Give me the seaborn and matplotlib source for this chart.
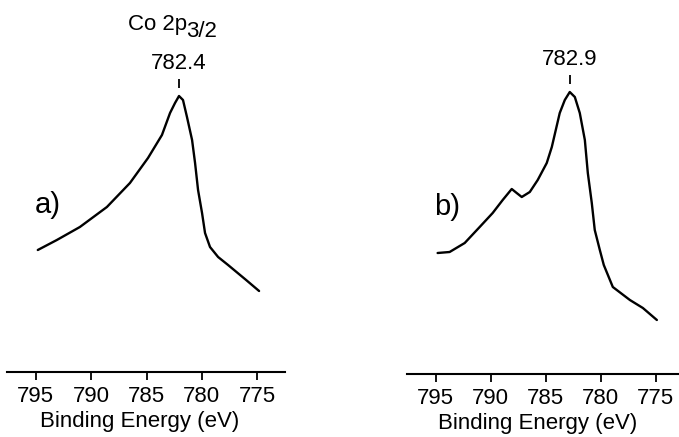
import matplotlib
matplotlib.use('Agg')
import matplotlib.pyplot as plt
import seaborn as sns
import pandas as pd

# Co 2p3/2 spectra, energies in eV, intensity in arbitrary units
energy_a = [794.82, 793.10, 791.02, 788.58, 786.50, 784.87, 783.61, 782.88, 782.43, 782.07,
            781.71, 781.35, 780.89, 780.62, 780.35, 779.99, 779.72, 779.27, 778.54, 777.64,
            776.01, 774.84]
intensity_a = [122, 132, 145, 165, 189, 214, 237, 259, 269, 276,
               272, 255, 232, 209, 182, 159, 139, 125, 115, 107,
               92, 81]

energy_b = [794.82, 793.73, 792.36, 791.00, 789.82, 788.91, 788.09, 787.64, 787.18, 786.45,
            785.73, 784.91, 784.45, 783.73, 783.27, 782.82, 782.36, 781.91, 781.45, 781.18,
            780.82, 780.55, 780.09, 779.73, 778.91, 777.36, 776.18, 774.91]
intensity_b = [121, 122, 131, 147, 161, 174, 185, 181, 177, 182,
               194, 211, 227, 261, 274, 282, 277, 261, 234, 201,
               171, 144, 124, 109, 87, 74, 66, 54]

ticks = [795, 790, 785, 780, 775]
peak_labels = ["782.4", "782.9"]
panel_labels = ["a)", "b)"]

sns.set_style("white")
plt.rcParams['font.family'] = ['Liberation Sans', 'DejaVu Sans']
plt.rcParams['text.color'] = 'black'
plt.rcParams['axes.labelcolor'] = 'black'
plt.rcParams['xtick.color'] = 'black'

fig = plt.figure(figsize=(6.79, 4.37), dpi=100)
W, H = 679, 437
ax_a = fig.add_axes([7 / W, 65 / H, 278 / W, 372 / H])
ax_b = fig.add_axes([407 / W, 63 / H, 272 / W, 374 / H])

panels = [
    (ax_a, energy_a, intensity_a, (797.6, 772.5), 372, 0.478),
    (ax_b, energy_b, intensity_b, (797.6, 772.9), 374, 0.48),
]

for i, (ax, e, y, xlim, top, lab_x) in enumerate(panels):
    df = pd.DataFrame({'energy': e, 'intensity': y})
    sns.lineplot(data=df, x='energy', y='intensity', ax=ax, sort=False,
                 color='black', linewidth=1.7, solid_joinstyle='round',
                 solid_capstyle='round')
    ax.set_xlim(*xlim)
    ax.set_ylim(0, top)
    for s in ['top', 'left', 'right']:
        ax.spines[s].set_visible(False)
    ax.spines['bottom'].set_linewidth(1.5)
    ax.spines['bottom'].set_color('black')
    ax.set_yticks([])
    ax.set_ylabel('')
    ax.set_xticks(ticks)
    ax.set_xticklabels([str(t) for t in ticks])
    ax.tick_params(axis='x', direction='out', length=6, width=1.3,
                   labelsize=16, pad=4, bottom=True, color='black',
                   labelcolor='black')
    ax.set_xlabel('Binding Energy (eV)', fontsize=16, labelpad=1)
    ax.xaxis.set_label_coords(lab_x, -0.105)
    ax.set_facecolor('none')

    # peak marker
    k = y.index(max(y))
    pe, pi = e[k], y[k]
    ax.vlines(pe, pi + 8, pi + 17, color='black', linewidth=1.3)
    ax.text(pe, pi + 22, peak_labels[i], ha='center', va='bottom', fontsize=16)
    ax.text(795.1, 167, panel_labels[i], ha='left', va='center', fontsize=21)

ax_a.text(786.7, 342, 'Co 2p', ha='left', va='baseline', fontsize=16)
ax_a.text(781.4, 335, '3/2', ha='left', va='baseline', fontsize=16)

fig.savefig('out.png', dpi=100)
